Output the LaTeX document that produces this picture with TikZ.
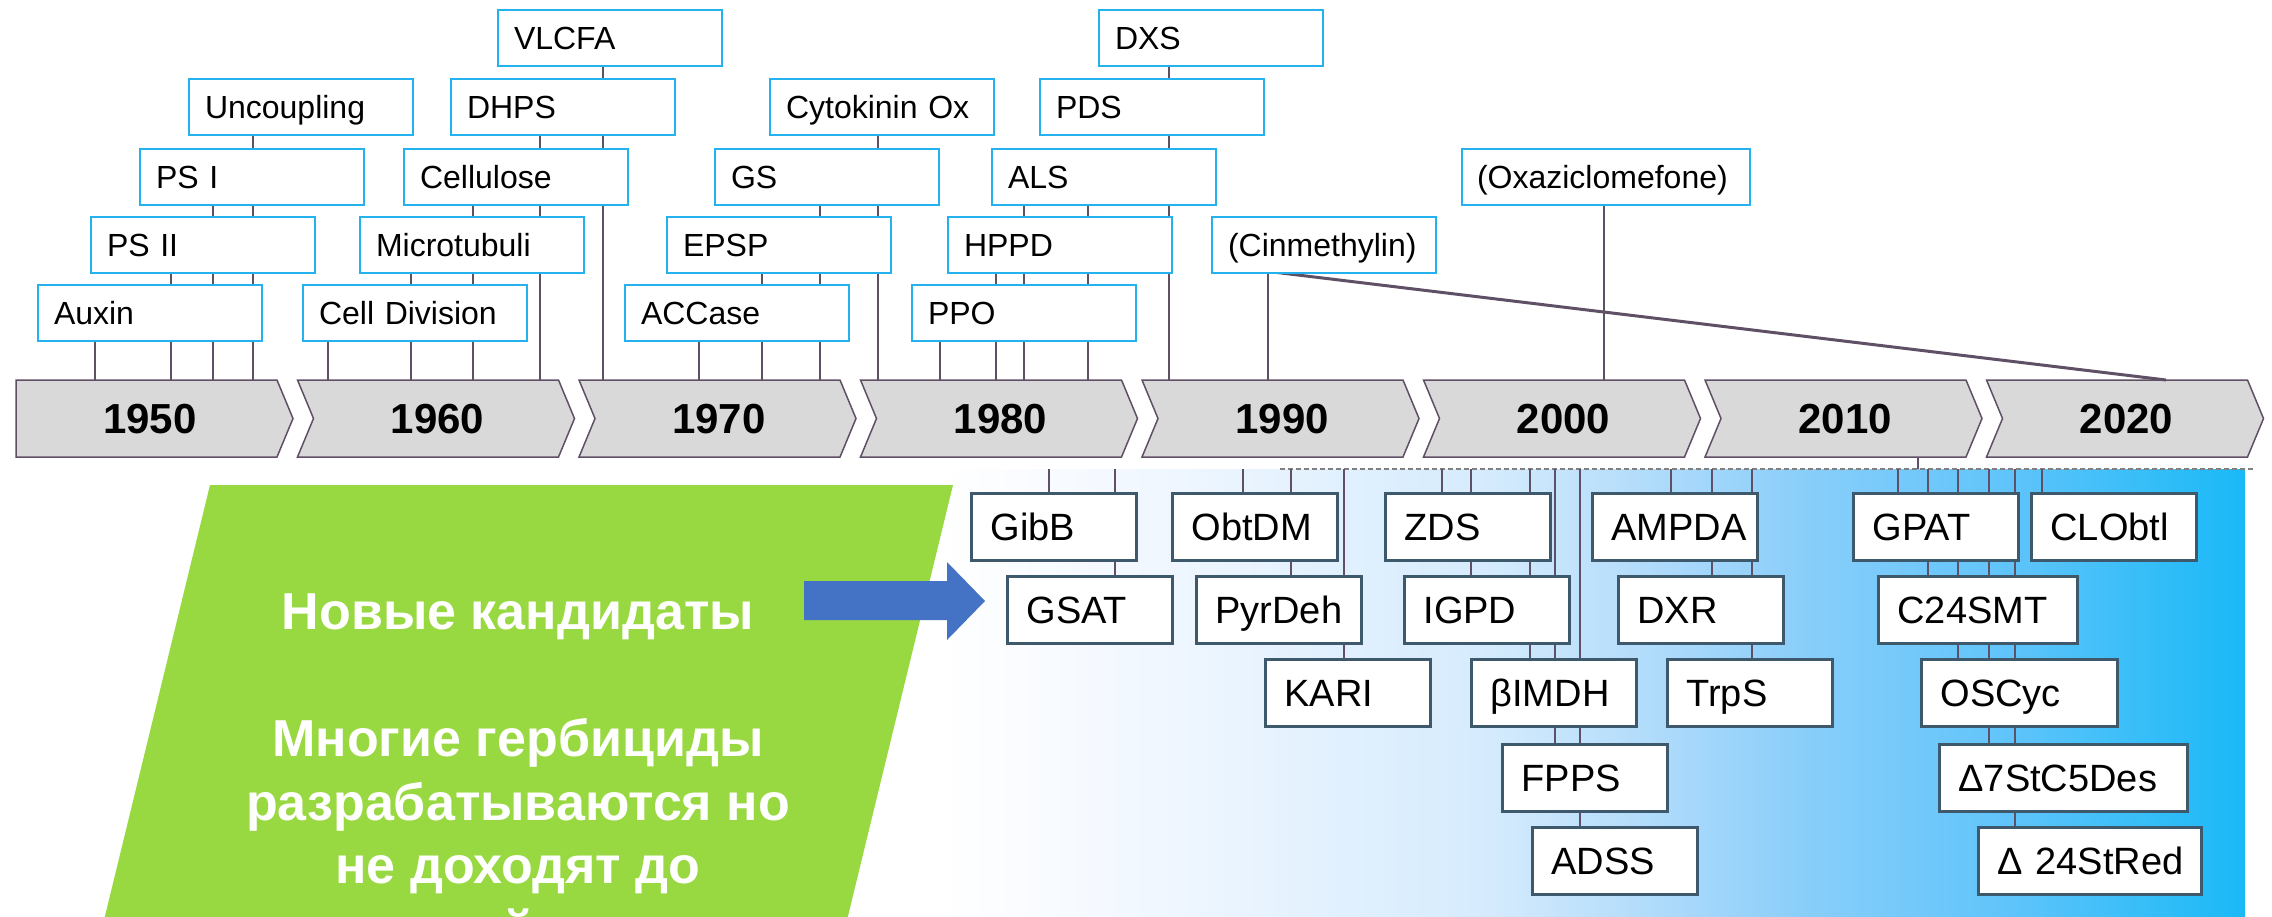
\documentclass[tikz,border=0pt]{standalone}
\usepackage{fontspec}
\setmainfont{Liberation Sans}
\definecolor{tcyan}{RGB}{35,178,238}
\definecolor{slate}{RGB}{62,88,108}
\definecolor{stem}{RGB}{95,80,102}
\definecolor{bargray}{RGB}{217,217,217}
\definecolor{leaf}{RGB}{152,216,64}
\definecolor{arrowblue}{RGB}{68,114,196}
\definecolor{fadeA}{RGB}{245,249,255}
\definecolor{fadeB}{RGB}{213,235,253}
\definecolor{fadeC}{RGB}{178,220,251}
\definecolor{fadeD}{RGB}{138,206,250}
\definecolor{fadeE}{RGB}{95,196,250}
\definecolor{fadeF}{RGB}{25,185,247}
\pgfdeclarehorizontalshading{skyfade}{100bp}{color(0bp)=(white); color(25bp)=(white); color(31bp)=(fadeA); color(46bp)=(fadeB); color(52bp)=(fadeC); color(58bp)=(fadeD); color(66bp)=(fadeE); color(75bp)=(fadeF); color(100bp)=(fadeF)}
\begin{document}
\begin{tikzpicture}[x=1pt, y=-1pt,
  tgt/.style={draw=tcyan, line width=2pt, fill=white, anchor=north west, minimum height=56pt, text width=192pt, inner xsep=16pt, inner ysep=0pt, text height=30pt, text depth=7pt, align=left, font=\fontsize{32}{38}\selectfont},
  cand/.style={draw=slate, line width=3pt, fill=white, anchor=north west, minimum height=67pt, text width=127pt, inner xsep=19pt, inner ysep=0pt, text height=34pt, text depth=7pt, align=left, font=\fontsize{38}{45}\selectfont},
  e/.style={draw=stem, line width=2.5pt},
  bar/.style={draw=stem, line width=1.5pt, fill=bargray},
  yr/.style={font=\bfseries\fontsize{42}{50}\selectfont}]
\useasboundingbox (0,0) rectangle (2272,916);
\coordinate (bartop) at (0,380);
\coordinate (barbot) at (0,457);
\coordinate (shelf) at (0,469);

\shade[shading=skyfade] (940,469) rectangle (2245,916);
\draw[draw=gray, line width=1.5pt, dash pattern=on 5pt off 3pt] (1280,0 |- shelf) -- (2253,0 |- shelf);

\draw[e] (1049,0 |- shelf) -- (1049,492);
\draw[e] (1115,0 |- shelf) -- (1115,575);
\draw[e] (1243,0 |- shelf) -- (1243,492);
\draw[e] (1291,0 |- shelf) -- (1291,575);
\draw[e] (1344,0 |- shelf) -- (1344,658);
\draw[e] (1442,0 |- shelf) -- (1442,492);
\draw[e] (1471,0 |- shelf) -- (1471,575);
\draw[e] (1530,0 |- shelf) -- (1530,658);
\draw[e] (1555,0 |- shelf) -- (1555,743);
\draw[e] (1580,0 |- shelf) -- (1580,826);
\draw[e] (1671,0 |- shelf) -- (1671,492);
\draw[e] (1712,0 |- shelf) -- (1712,575);
\draw[e] (1752,0 |- shelf) -- (1752,658);
\draw[e] (1898,0 |- shelf) -- (1898,492);
\draw[e] (1928,0 |- shelf) -- (1928,575);
\draw[e] (1958,0 |- shelf) -- (1958,658);
\draw[e] (1989,0 |- shelf) -- (1989,743);
\draw[e] (2015,0 |- shelf) -- (2015,826);
\draw[e] (2042,0 |- shelf) -- (2042,492);
\draw[e] (1918,0 |- barbot) -- (1918,0 |- shelf);

\node[cand] (gibb) at (970,492) {GibB};
\node[cand] (gsat) at (1006,575) {GSAT};
\node[cand] (obtdm) at (1171,492) {ObtDM};
\node[cand] (pyrdeh) at (1195,575) {PyrDeh};
\node[cand] (kari) at (1264,658) {KARI};
\node[cand] (zds) at (1384,492) {ZDS};
\node[cand] (igpd) at (1403,575) {IGPD};
\node[cand] (bimdh) at (1470,658) {βIMDH};
\node[cand] (fpps) at (1501,743) {FPPS};
\node[cand] (adss) at (1531,826) {ADSS};
\node[cand] (ampda) at (1591,492) {AMPDA};
\node[cand] (dxr) at (1617,575) {DXR};
\node[cand] (trps) at (1666,658) {TrpS};
\node[cand] (gpat) at (1852,492) {GPAT};
\node[cand] (clobtl) at (2030,492) {CLObtl};
\node[cand, text width=161pt] (c24smt) at (1877,575) {C24SMT};
\node[cand, text width=158pt] (oscyc) at (1920,658) {OSCyc};
\node[cand, text width=210pt] (d7) at (1938,743) {Δ7StC5Des};
\node[cand, text width=185pt] (d24) at (1977,826) {\mbox{Δ 24StRed}};

\fill[leaf] (210,485) -- (953,485) -- (837.3,960) -- (94.3,960) -- cycle;
\node[font=\bfseries\fontsize{52}{63.5}\selectfont, text=white, align=center, anchor=north, inner sep=0pt] (pitch) at (518,594) {Новые кандидаты\\[63.5pt]Многие гербициды\\разрабатываются но\\не доходят до\\й};
\fill[arrowblue] (804,581) -- (947,581) -- (947,562) -- (985,601) -- (947,640) -- (947,620) -- (804,620) -- cycle;

\draw[bar] (16,380) -- ++(261,0) -- ++(16,38.5) -- ++(-16,38.5) -- ++(-261,0) -- cycle;
\draw[bar] (297.5,380) -- ++(261,0) -- ++(16,38.5) -- ++(-16,38.5) -- ++(-261,0) -- ++(16,-38.5) -- cycle;
\draw[bar] (579,380) -- ++(261,0) -- ++(16,38.5) -- ++(-16,38.5) -- ++(-261,0) -- ++(16,-38.5) -- cycle;
\draw[bar] (860.5,380) -- ++(261,0) -- ++(16,38.5) -- ++(-16,38.5) -- ++(-261,0) -- ++(16,-38.5) -- cycle;
\draw[bar] (1142,380) -- ++(261,0) -- ++(16,38.5) -- ++(-16,38.5) -- ++(-261,0) -- ++(16,-38.5) -- cycle;
\draw[bar] (1423.5,380) -- ++(261,0) -- ++(16,38.5) -- ++(-16,38.5) -- ++(-261,0) -- ++(16,-38.5) -- cycle;
\draw[bar] (1705,380) -- ++(261,0) -- ++(16,38.5) -- ++(-16,38.5) -- ++(-261,0) -- ++(16,-38.5) -- cycle;
\draw[bar] (1986.5,380) -- ++(261,0) -- ++(16,38.5) -- ++(-16,38.5) -- ++(-261,0) -- ++(16,-38.5) -- cycle;
\node[yr] (y1950) at (150,419) {1950};
\node[yr] (y1960) at (437.5,419) {1960};
\node[yr] (y1970) at (719,419) {1970};
\node[yr] (y1980) at (1000.5,419) {1980};
\node[yr] (y1990) at (1282,419) {1990};
\node[yr] (y2000) at (1563.5,419) {2000};
\node[yr] (y2010) at (1845,419) {2010};
\node[yr] (y2020) at (2126.5,419) {2020};

\draw[e] (95,341) -- (95,0 |- bartop);
\draw[e] (171,272) -- (171,0 |- bartop);
\draw[e] (213,203) -- (213,0 |- bartop);
\draw[e] (253,134) -- (253,0 |- bartop);
\draw[e] (328,341) -- (328,0 |- bartop);
\draw[e] (411,272) -- (411,0 |- bartop);
\draw[e] (473,203) -- (473,0 |- bartop);
\draw[e] (540,134) -- (540,0 |- bartop);
\draw[e] (603,65) -- (603,0 |- bartop);
\draw[e] (699,341) -- (699,0 |- bartop);
\draw[e] (762,272) -- (762,0 |- bartop);
\draw[e] (820,203) -- (820,0 |- bartop);
\draw[e] (878,134) -- (878,0 |- bartop);
\draw[e] (940,341) -- (940,0 |- bartop);
\draw[e] (996,272) -- (996,0 |- bartop);
\draw[e] (1024,203) -- (1024,0 |- bartop);
\draw[e] (1088,203) -- (1088,0 |- bartop);
\draw[e] (1169,65) -- (1169,0 |- bartop);
\draw[e] (1268,272) -- (1268,0 |- bartop);
\draw[e] (1604,203) -- (1604,0 |- bartop);
\draw[e, line width=3pt] (1273,272) -- (2166,0 |- bartop);

\node[tgt] (vlcfa) at (497,9) {VLCFA};
\node[tgt] (dxs) at (1098,9) {DXS};
\node[tgt] (uncoup) at (188,78) {Uncoupling};
\node[tgt] (dhps) at (450,78) {DHPS};
\node[tgt] (cytox) at (769,78) {Cytokinin Ox};
\node[tgt] (pds) at (1039,78) {PDS};
\node[tgt] (ps1) at (139,148) {PS I};
\node[tgt] (cellu) at (403,148) {Cellulose};
\node[tgt] (gs) at (714,148) {GS};
\node[tgt] (als) at (991,148) {ALS};
\node[tgt, inner xsep=15pt, text width=258pt] (oxaz) at (1461,148) {(Oxaziclomefone)};
\node[tgt] (ps2) at (90,216) {PS II};
\node[tgt] (mtub) at (359,216) {Microtubuli};
\node[tgt] (epsp) at (666,216) {EPSP};
\node[tgt] (hppd) at (947,216) {HPPD};
\node[tgt] (cinm) at (1211,216) {(Cinmethylin)};
\node[tgt] (auxin) at (37,284) {Auxin};
\node[tgt] (celldiv) at (302,284) {Cell Division};
\node[tgt] (accase) at (624,284) {ACCase};
\node[tgt] (ppo) at (911,284) {PPO};
\end{tikzpicture}
\end{document}
